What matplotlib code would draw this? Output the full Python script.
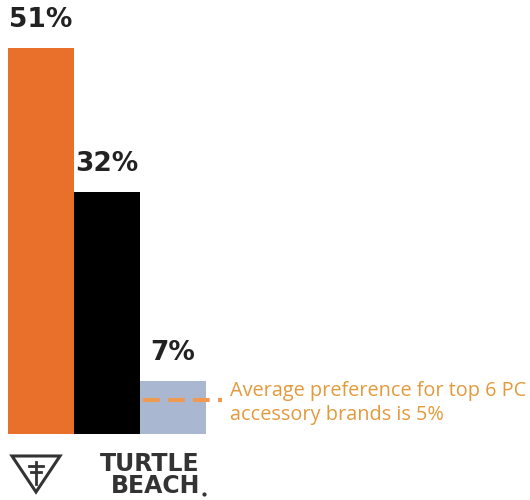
import matplotlib.pyplot as plt
from matplotlib.patches import Polygon

# data
brands = ["Turtle Beach", "Competitor", "Next brand"]
shares = [51, 32, 7]
bar_colors = ["#E8702A", "#000000", "#A9B8D0"]
avg_top6 = 5
note = "Average preference for top 6 PC\naccessory brands is 5%"

W, H = 530, 500
fig = plt.figure(figsize=(W / 100, H / 100), dpi=100)
fig.patch.set_facecolor("white")

# bar area: x 8..206 px, baseline at y=434 px from top
ax = fig.add_axes([8 / W, (H - 434) / H, 198 / W, 434 / H])
ax.set_xlim(-0.5, len(brands) - 0.5)
ax.set_ylim(0, 434 / 7.57)
ax.axis("off")

xs = range(len(brands))
ax.bar(xs, shares, width=1.0, color=bar_colors, linewidth=0)
for x, v in zip(xs, shares):
  ax.text(x, v + 2.0, f"{v}%", ha="center", va="bottom",
          fontsize=19, fontweight="bold", color="#222222",
          family="DejaVu Sans", clip_on=False)

# average line, extends beyond the last bar
ax.plot([1.55, 2.74], [avg_top6 - 0.5, avg_top6 - 0.5], color="#EE9A55",
        lw=3, dashes=(4, 2), clip_on=False, solid_capstyle="butt")
ax.text(2.87, avg_top6 - 0.9, note, ha="left", va="center",
        fontsize=14.3, color="#E39A3C", family="Open Sans",
        linespacing=1.25, clip_on=False)

# logo
lax = fig.add_axes([0, 0, 1, 1])
lax.set_xlim(0, W)
lax.set_ylim(H, 0)
lax.axis("off")
tri = Polygon([[12, 456], [60, 456], [36, 492]], closed=True,
              fill=False, edgecolor="#333333", lw=2.2)
lax.add_patch(tri)
lax.plot([36, 36], [462, 484], color="#333333", lw=2)
lax.plot([29, 43], [466, 466], color="#333333", lw=2)
lax.plot([31, 41], [472, 472], color="#333333", lw=2)
lax.text(200, 475, "TURTLE\nBEACH", ha="right", va="center", fontsize=17,
         multialignment="right", linespacing=0.92,
         color="#333333", family="DejaVu Sans", fontweight="bold")
lax.plot([204], [494], marker="o", ms=2, color="#333333")

fig.savefig("out.png", dpi=100)
